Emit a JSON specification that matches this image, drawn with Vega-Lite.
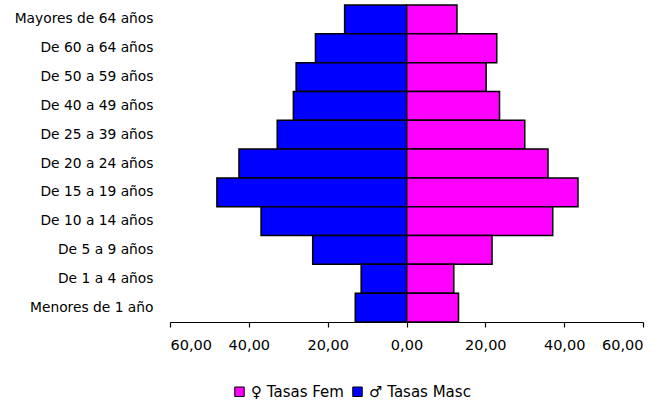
{
  "$schema": "https://vega.github.io/schema/vega-lite/v6.json",
  "width": 473,
  "height": 317,
  "autosize": {"type": "none"},
  "padding": {"left": 170, "top": 5, "right": 25, "bottom": 79},
  "background": "white",
  "config": {
    "view": {"stroke": null},
    "font": "DejaVu Sans",
    "axis": {"labelFont": "DejaVu Sans", "labelColor": "#000000"},
    "legend": {"labelFont": "DejaVu Sans", "labelColor": "#000000"}
  },
  "data": {
    "values": [
      {"grupo": "Mayores de 64 años", "sexo": "♀ Tasas Fem", "tasa": 12.8},
      {"grupo": "De 60 a 64 años", "sexo": "♀ Tasas Fem", "tasa": 22.9},
      {"grupo": "De 50 a 59 años", "sexo": "♀ Tasas Fem", "tasa": 20.2},
      {"grupo": "De 40 a 49 años", "sexo": "♀ Tasas Fem", "tasa": 23.6},
      {"grupo": "De 25 a 39 años", "sexo": "♀ Tasas Fem", "tasa": 30.0},
      {"grupo": "De 20 a 24 años", "sexo": "♀ Tasas Fem", "tasa": 35.9},
      {"grupo": "De 15 a 19 años", "sexo": "♀ Tasas Fem", "tasa": 43.5},
      {"grupo": "De 10 a 14 años", "sexo": "♀ Tasas Fem", "tasa": 37.1},
      {"grupo": "De 5 a 9 años", "sexo": "♀ Tasas Fem", "tasa": 21.7},
      {"grupo": "De 1 a 4 años", "sexo": "♀ Tasas Fem", "tasa": 12.0},
      {"grupo": "Menores de 1 año", "sexo": "♀ Tasas Fem", "tasa": 13.2},
      {"grupo": "Mayores de 64 años", "sexo": "♂ Tasas Masc", "tasa": -15.7},
      {"grupo": "De 60 a 64 años", "sexo": "♂ Tasas Masc", "tasa": -23.1},
      {"grupo": "De 50 a 59 años", "sexo": "♂ Tasas Masc", "tasa": -28.0},
      {"grupo": "De 40 a 49 años", "sexo": "♂ Tasas Masc", "tasa": -28.7},
      {"grupo": "De 25 a 39 años", "sexo": "♂ Tasas Masc", "tasa": -32.8},
      {"grupo": "De 20 a 24 años", "sexo": "♂ Tasas Masc", "tasa": -42.5},
      {"grupo": "De 15 a 19 años", "sexo": "♂ Tasas Masc", "tasa": -48.1},
      {"grupo": "De 10 a 14 años", "sexo": "♂ Tasas Masc", "tasa": -36.9},
      {"grupo": "De 5 a 9 años", "sexo": "♂ Tasas Masc", "tasa": -23.8},
      {"grupo": "De 1 a 4 años", "sexo": "♂ Tasas Masc", "tasa": -11.5},
      {"grupo": "Menores de 1 año", "sexo": "♂ Tasas Masc", "tasa": -13.0}
    ]
  },
  "mark": {"type": "bar", "stroke": "#000000", "strokeWidth": 1.5},
  "encoding": {
    "y": {
      "field": "grupo",
      "type": "nominal",
      "scale": {
        "domain": ["Mayores de 64 años", "De 60 a 64 años", "De 50 a 59 años", "De 40 a 49 años", "De 25 a 39 años", "De 20 a 24 años", "De 15 a 19 años", "De 10 a 14 años", "De 5 a 9 años", "De 1 a 4 años", "Menores de 1 año"],
        "paddingInner": 0,
        "paddingOuter": 0
      },
      "axis": {"title": null, "domain": false, "ticks": false, "labelPadding": 17, "labelFontSize": 13.8}
    },
    "x": {
      "field": "tasa",
      "type": "quantitative",
      "stack": null,
      "scale": {"domain": [-60, 60], "nice": false},
      "axis": {
        "title": null,
        "values": [-60, -40, -20, 0, 20, 40, 60],
        "grid": false,
        "domainColor": "#000000",
        "domainWidth": 1.2,
        "tickColor": "#000000",
        "tickSize": 5,
        "tickWidth": 1.2,
        "labelPadding": 11,
        "labelFontSize": 14.5,
        "labelExpr": "replace(format(abs(datum.value), '.2f'), '.', ',')"
      }
    },
    "color": {
      "field": "sexo",
      "type": "nominal",
      "scale": {"domain": ["♀ Tasas Fem", "♂ Tasas Masc"], "range": ["#FF00FF", "#0000FF"]},
      "legend": {
        "title": null,
        "orient": "none",
        "legendX": 62,
        "legendY": 379,
        "direction": "horizontal",
        "symbolType": "square",
        "symbolSize": 90,
        "symbolStrokeColor": "#000000",
        "symbolStrokeWidth": 1,
        "labelFontSize": 15,
        "columnPadding": 6,
        "labelOffset": 4
      }
    }
  }
}
